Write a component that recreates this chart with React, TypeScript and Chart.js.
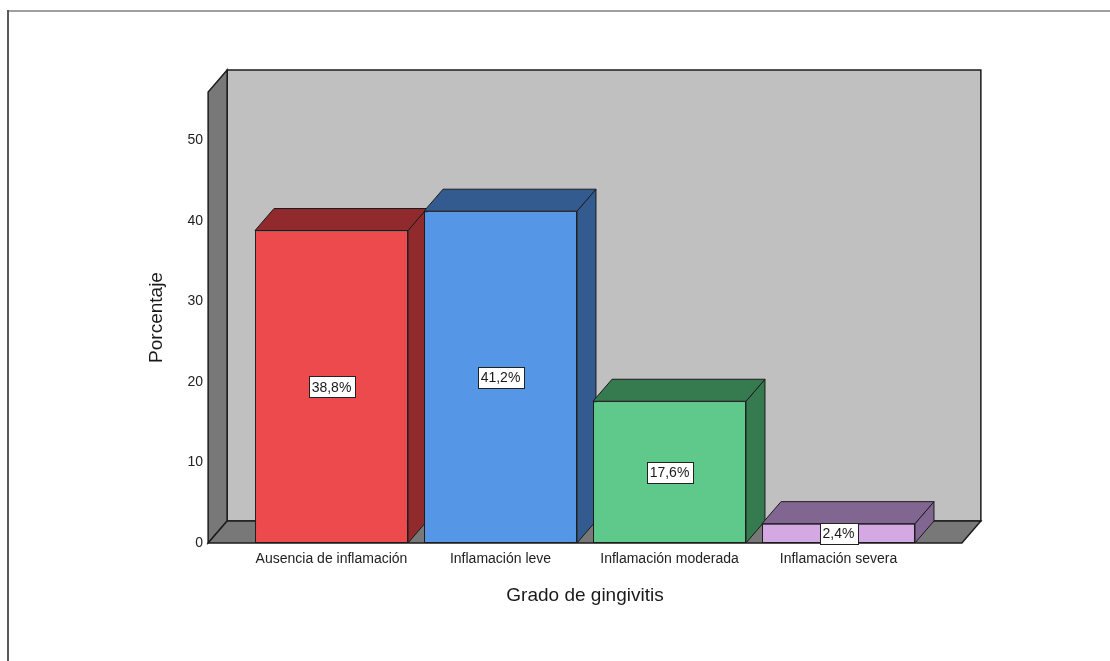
import React, { useEffect, useRef } from "react";
import { Chart, registerables } from "chart.js";

Chart.register(...registerables);

const categories = [
  "Ausencia de inflamación",
  "Inflamación leve",
  "Inflamación moderada",
  "Inflamación severa",
];
const percentages = [38.8, 41.2, 17.6, 2.4];
const valueLabels = ["38,8%", "41,2%", "17,6%", "2,4%"];
const yTicks = [0, 10, 20, 30, 40, 50];
const yMax = 56;
const frontColors = ["#ec4a4c", "#5596e6", "#5ec98a", "#d3a8e3"];
const shadeColors = ["#902a2d", "#345b8f", "#367a50", "#806690"];
const yTitle = "Porcentaje";
const xTitle = "Grado de gingivitis";

const FONT = '"Liberation Sans", Arial, Helvetica, sans-serif';
const DX = 19;
const DY = 22;
const EXT = 0.23;
const EDGE = "#1c1c1c";

const poly = (ctx: CanvasRenderingContext2D, pts: number[][], fill: string, stroke = EDGE, lw = 1) => {
  ctx.beginPath();
  ctx.moveTo(pts[0][0], pts[0][1]);
  for (let i = 1; i < pts.length; i++) ctx.lineTo(pts[i][0], pts[i][1]);
  ctx.closePath();
  ctx.fillStyle = fill;
  ctx.fill();
  ctx.strokeStyle = stroke;
  ctx.lineWidth = lw;
  ctx.stroke();
};

const box3d = {
  id: "box3d",
  beforeDraw(chart: any) {
    const ctx = chart.ctx;
    ctx.save();
    ctx.fillStyle = "#a0a0a0";
    ctx.fillRect(7, 10, chart.width - 7, 2);
    ctx.fillStyle = "#5a5a5a";
    ctx.fillRect(7, 10, 2, chart.height - 10);
    ctx.restore();
  },
  beforeDatasetsDraw(chart: any) {
    const ctx = chart.ctx;
    const { left, right, top, bottom } = chart.chartArea;
    const xs = chart.scales.x;
    const w = xs.getPixelForValue(1) - xs.getPixelForValue(0);
    const L = left - w * EXT;
    const R = right + w * EXT;
    ctx.save();
    ctx.lineJoin = "miter";
    // back wall
    poly(ctx, [[L + DX, top - DY], [R + DX, top - DY], [R + DX, bottom - DY], [L + DX, bottom - DY]], "#c0c0c0", EDGE, 1.5);
    // left side wall
    poly(ctx, [[L, bottom], [L, top], [L + DX, top - DY], [L + DX, bottom - DY]], "#787878", EDGE, 1.5);
    // floor
    poly(ctx, [[L, bottom], [R, bottom], [R + DX, bottom - DY], [L + DX, bottom - DY]], "#787878", EDGE, 1.5);
    // bar sides & tops
    const meta = chart.getDatasetMeta(0);
    meta.data.forEach((bar: any, i: number) => {
      const { x, y, base, width } = bar.getProps(["x", "y", "base", "width"], true);
      const bl = x - width / 2;
      const br = x + width / 2;
      poly(ctx, [[br, y], [br + DX, y - DY], [br + DX, base - DY], [br, base]], shadeColors[i]);
      poly(ctx, [[bl, y], [bl + DX, y - DY], [br + DX, y - DY], [br, y]], shadeColors[i]);
    });
    ctx.restore();
  },
  afterDatasetsDraw(chart: any) {
    const ctx = chart.ctx;
    const meta = chart.getDatasetMeta(0);
    ctx.save();
    ctx.font = `14px ${FONT}`;
    ctx.textAlign = "center";
    ctx.textBaseline = "middle";
    meta.data.forEach((bar: any, i: number) => {
      const { x, y, base } = bar.getProps(["x", "y", "base"], true);
      const cy = (y + base) / 2;
      const tw = ctx.measureText(valueLabels[i]).width;
      const bw = Math.round(tw + 6);
      const bh = 21;
      const bx = Math.round(x - bw / 2) + 0.5;
      const by = Math.round(cy - bh / 2) + 0.5;
      ctx.fillStyle = "#ffffff";
      ctx.fillRect(bx, by, bw, bh);
      ctx.strokeStyle = "#222";
      ctx.lineWidth = 1;
      ctx.strokeRect(bx, by, bw, bh);
      ctx.fillStyle = "#1a1a1a";
      ctx.fillText(valueLabels[i], x, cy + 1);
    });
    ctx.restore();
  },
};

export default function App() {
  const ref = useRef<HTMLCanvasElement>(null);
  useEffect(() => {
    document.body.style.overflow = "hidden";
    const chart = new Chart(ref.current as HTMLCanvasElement, {
      type: "bar",
      data: {
        labels: categories,
        datasets: [
          {
            data: percentages,
            backgroundColor: frontColors,
            borderColor: EDGE,
            borderWidth: 1,
            borderSkipped: false,
            barPercentage: 0.905,
            categoryPercentage: 1,
          },
        ],
      },
      options: {
        animation: false,
        responsive: false,
        layout: { padding: { left: 140, right: 187, top: 92, bottom: 54 } },
        plugins: { legend: { display: false }, tooltip: { enabled: false } },
        scales: {
          x: {
            type: "category",
            offset: true,
            grid: { display: false, drawTicks: false },
            border: { display: false },
            ticks: { color: "#222", font: { size: 14, family: FONT }, padding: 8, maxRotation: 0, autoSkip: false },
            title: { display: true, text: xTitle, color: "#1a1a1a", font: { size: 19, family: FONT }, padding: { top: 0, bottom: 0 } },
            afterFit: (s: any) => {
              s.height = 64;
            },
          },
          y: {
            min: 0,
            max: yMax,
            grid: { display: false, drawTicks: false },
            border: { display: false },
            ticks: {
              stepSize: 10,
              includeBounds: false,
              color: "#222",
              font: { size: 14, family: FONT },
              padding: 44,
              callback: (v: any) => (yTicks.includes(Number(v)) ? String(v) : ""),
            },
            title: { display: true, text: yTitle, color: "#1a1a1a", font: { size: 19, family: FONT }, padding: { top: 5, bottom: 0 } },
            afterFit: (s: any) => {
              s.width = 107;
            },
          },
        },
      } as any,
      plugins: [box3d],
    });
    return () => chart.destroy();
  }, []);
  return (
    <canvas
      ref={ref}
      width={1110}
      height={661}
      style={{ position: "absolute", left: 0, top: 0, width: 1110, height: 661, display: "block" }}
    />
  );
}
